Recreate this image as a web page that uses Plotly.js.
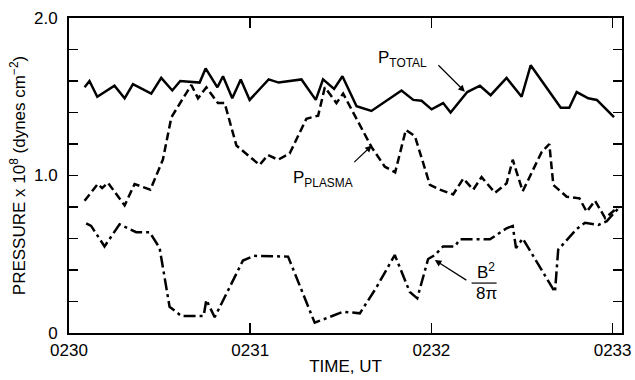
<!DOCTYPE html>
<html>
<head>
<meta charset="utf-8">
<script src="https://cdn.plot.ly/plotly-3.0.1.min.js"></script>
<style>html,body{margin:0;padding:0;background:#fff}#chart{width:635px;height:380px}</style>
</head>
<body>
<div id="chart"></div>
<script>
// time in minutes after 0230 UT
const tTotal = [0.086,0.113,0.156,0.251,0.307,0.353,0.454,0.509,0.570,0.614,0.721,0.754,0.819,0.850,0.901,0.948,0.997,1.102,1.157,1.283,1.362,1.402,1.463,1.509,1.587,1.669,1.835,1.90,1.946,2.001,2.065,2.106,2.198,2.268,2.327,2.415,2.498,2.548,2.714,2.761,2.802,2.866,2.913,3.008];
const pTotal = [1.56,1.60,1.50,1.57,1.49,1.58,1.52,1.62,1.54,1.60,1.59,1.68,1.56,1.63,1.49,1.61,1.48,1.61,1.59,1.61,1.48,1.61,1.55,1.63,1.44,1.41,1.54,1.48,1.475,1.42,1.46,1.40,1.53,1.57,1.51,1.62,1.50,1.70,1.43,1.43,1.53,1.49,1.48,1.37];

const tPlasma = [0.086,0.159,0.183,0.215,0.307,0.362,0.449,0.518,0.565,0.675,0.712,0.758,0.822,0.859,0.924,1.052,1.098,1.154,1.218,1.31,1.375,1.412,1.476,1.513,1.67,1.743,1.80,1.859,1.909,1.992,2.047,2.12,2.176,2.231,2.277,2.351,2.415,2.449,2.504,2.609,2.651,2.673,2.747,2.817,2.857,2.903,2.959,3.032];
const pPlasma = [0.84,0.946,0.92,0.954,0.81,0.946,0.91,1.10,1.37,1.575,1.49,1.56,1.46,1.46,1.19,1.067,1.13,1.10,1.14,1.36,1.38,1.56,1.46,1.52,1.18,1.056,1.02,1.29,1.25,0.94,0.91,0.88,0.98,0.91,0.99,0.89,0.95,1.10,0.90,1.15,1.20,0.94,0.865,0.855,0.77,0.84,0.73,0.80];

const tMag = [0.095,0.122,0.196,0.279,0.371,0.445,0.5,0.555,0.62,0.743,0.758,0.804,0.96,1.021,1.209,1.356,1.513,1.605,1.697,1.798,1.881,1.922,1.982,2.019,2.065,2.13,2.157,2.323,2.415,2.449,2.467,2.504,2.682,2.70,2.802,2.848,2.922,2.968,3.038];
const pMag = [0.696,0.68,0.55,0.69,0.64,0.64,0.54,0.167,0.108,0.108,0.21,0.10,0.46,0.49,0.485,0.065,0.135,0.125,0.29,0.495,0.26,0.22,0.47,0.495,0.55,0.55,0.595,0.595,0.665,0.68,0.54,0.60,0.26,0.53,0.66,0.70,0.686,0.71,0.80];

const xTickVals = [0,1,2,3];
const xTickText = ["0230","0231","0232","0233"];
const yTickVals = [0,0.2,0.4,0.6,0.8,1.0,1.2,1.4,1.6,1.8,2.0];
const yTickText = ["0","","","","","1.0","","","","","2.0"];

const FONT = "Liberation Sans, Arial, Helvetica, sans-serif";

const traces = [
  {x: tTotal, y: pTotal, mode: "lines", line: {color: "#000", width: 2.5}},
  {x: tPlasma, y: pPlasma, mode: "lines", line: {color: "#000", width: 2.5, dash: "8px,4px"}},
  {x: tMag, y: pMag, mode: "lines", line: {color: "#000", width: 2.5, dash: "12px,4px,3px,4px"}}
];

const layout = {
  width: 635, height: 380,
  margin: {l: 69, r: 13, t: 18, b: 47},
  paper_bgcolor: "#fff", plot_bgcolor: "#fff",
  showlegend: false,
  font: {family: FONT, size: 17, color: "#000"},
  xaxis: {
    range: [0, 3.052], tickvals: xTickVals, ticktext: xTickText,
    ticks: "inside", ticklen: 10, tickwidth: 1.5, tickcolor: "#000",
    showline: true, linewidth: 2, linecolor: "#000", mirror: "ticks",
    showgrid: false, zeroline: false,
    tickfont: {size: 17}, ticklabelstandoff: 1,
    title: {text: "TIME, UT", font: {size: 17}, standoff: 1}
  },
  yaxis: {
    range: [0, 2.0], tickvals: yTickVals, ticktext: yTickText,
    ticks: "inside", ticklen: 9, tickwidth: 1.5, tickcolor: "#000",
    showline: true, linewidth: 2, linecolor: "#000", mirror: "ticks",
    showgrid: false, zeroline: false,
    tickfont: {size: 17}, ticklabelstandoff: 6,
    title: {text: "PRESSURE x 10<sup>8</sup> (dynes cm<sup>−2</sup>)", font: {size: 17}, standoff: 4}
  },
  annotations: [
    {x: 2.185, y: 1.532, xref: "x", yref: "y", text: "", showarrow: true,
     ax: -28, ay: -28, arrowhead: 2, arrowsize: 1.1, arrowwidth: 1.2, arrowcolor: "#000"},
    {x: 1.696, y: 1.74, xref: "x", yref: "y", text: "P<sub>TOTAL</sub>", showarrow: false,
     xanchor: "left", yanchor: "middle", font: {size: 17}},
    {x: 1.671, y: 1.19, xref: "x", yref: "y", text: "", showarrow: true,
     ax: -19, ay: 18, arrowhead: 2, arrowsize: 1.1, arrowwidth: 1.2, arrowcolor: "#000"},
    {x: 1.227, y: 0.98, xref: "x", yref: "y", text: "P<sub>PLASMA</sub>", showarrow: false,
     xanchor: "left", yanchor: "middle", font: {size: 17}},
    {x: 2.019, y: 0.463, xref: "x", yref: "y", text: "", showarrow: true,
     ax: 33, ay: 21, arrowhead: 2, arrowsize: 1.1, arrowwidth: 1.2, arrowcolor: "#000"},
    {x: 2.302, y: 0.315, xref: "x", yref: "y", text: "B<sup>2</sup>", showarrow: false,
     xanchor: "center", yanchor: "bottom", font: {size: 17}, borderpad: 0},
    {x: 2.302, y: 0.318, xref: "x", yref: "y", text: "8π", showarrow: false,
     xanchor: "center", yanchor: "top", font: {size: 17}, borderpad: 0}
  ],
  shapes: [
    {type: "line", xref: "x", yref: "y", x0: 2.222, x1: 2.36, y0: 0.317, y1: 0.317,
     line: {color: "#000", width: 1.2}}
  ]
};

Plotly.newPlot("chart", traces, layout, {staticPlot: true, displayModeBar: false});
</script>
</body>
</html>
